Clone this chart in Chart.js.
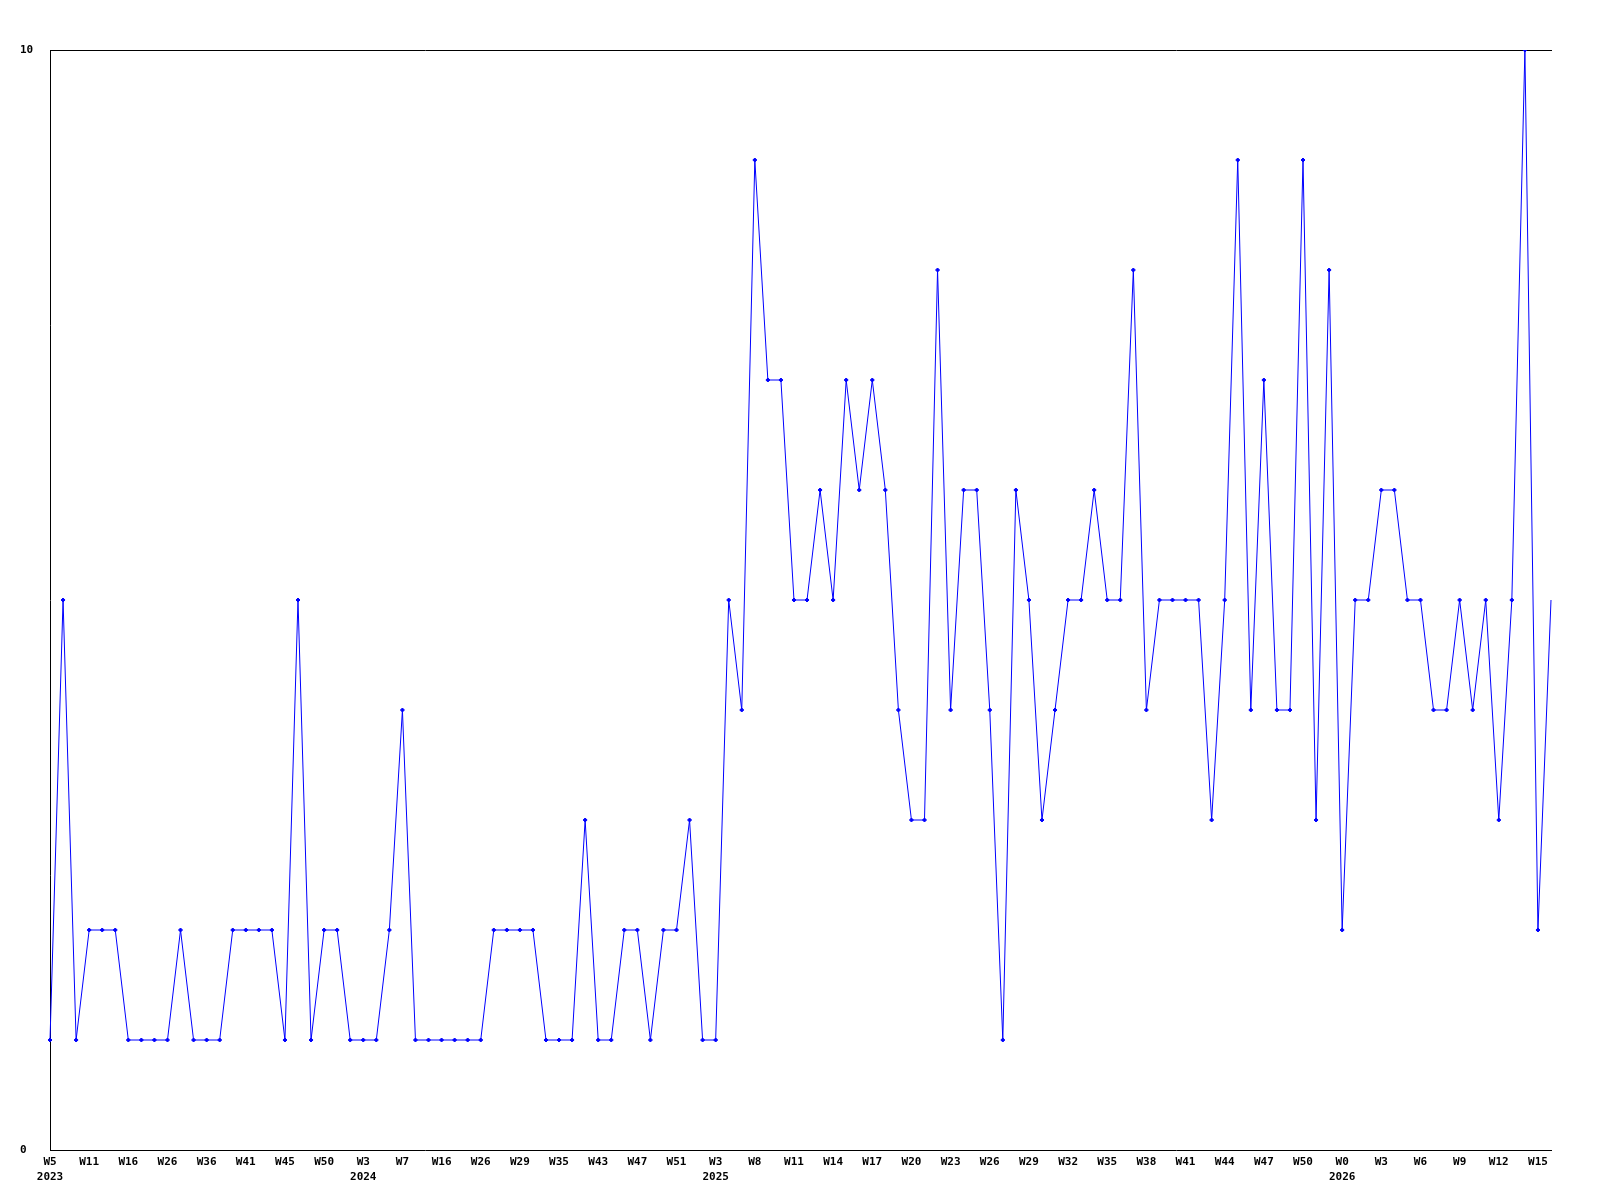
<!DOCTYPE html>
<html>
<head>
<meta charset="utf-8">
<script src="https://cdn.jsdelivr.net/npm/chart.js@4"></script>
<style>
  html, body { margin: 0; padding: 0; background: #fff; }
</style>
</head>
<body>
<canvas id="myChart" width="1600" height="1200"></canvas>
<script>
// week of each point (only every third one is labelled on the axis)
const weeks = [
  "W5", "W7", "W9", "W11", "W13", "W14", "W16", "W19", "W22", "W26", "W30", "W33",
  "W36", "W38", "W39", "W41", "W42", "W44", "W45", "W47", "W48", "W50", "W51", "W52",
  "W3", "W4", "W6", "W7", "W10", "W13", "W16", "W20", "W23", "W26", "W27", "W28",
  "W29", "W31", "W33", "W35", "W38", "W40", "W43", "W45", "W46", "W47", "W49", "W50",
  "W51", "W52", "W1", "W3", "W4", "W6", "W8", "W9", "W10", "W11", "W12", "W13",
  "W14", "W15", "W16", "W17", "W18", "W19", "W20", "W21", "W22", "W23", "W24", "W25",
  "W26", "W27", "W28", "W29", "W30", "W31", "W32", "W33", "W34", "W35", "W36", "W37",
  "W38", "W39", "W40", "W41", "W42", "W43", "W44", "W45", "W46", "W47", "W48", "W49",
  "W50", "W51", "W52", "W0", "W1", "W2", "W3", "W4", "W5", "W6", "W7", "W8",
  "W9", "W10", "W11", "W12", "W13", "W14", "W15", "W16"
];
const years = [
  2023, 2023, 2023, 2023, 2023, 2023, 2023, 2023, 2023, 2023, 2023, 2023,
  2023, 2023, 2023, 2023, 2023, 2023, 2023, 2023, 2023, 2023, 2023, 2023,
  2024, 2024, 2024, 2024, 2024, 2024, 2024, 2024, 2024, 2024, 2024, 2024,
  2024, 2024, 2024, 2024, 2024, 2024, 2024, 2024, 2024, 2024, 2024, 2024,
  2024, 2024, 2025, 2025, 2025, 2025, 2025, 2025, 2025, 2025, 2025, 2025,
  2025, 2025, 2025, 2025, 2025, 2025, 2025, 2025, 2025, 2025, 2025, 2025,
  2025, 2025, 2025, 2025, 2025, 2025, 2025, 2025, 2025, 2025, 2025, 2025,
  2025, 2025, 2025, 2025, 2025, 2025, 2025, 2025, 2025, 2025, 2025, 2025,
  2025, 2025, 2025, 2026, 2026, 2026, 2026, 2026, 2026, 2026, 2026, 2026,
  2026, 2026, 2026, 2026, 2026, 2026, 2026, 2026
];
const counts = [
  1, 5, 1, 2, 2, 2, 1, 1, 1, 1, 2, 1,
  1, 1, 2, 2, 2, 2, 1, 5, 1, 2, 2, 1,
  1, 1, 2, 4, 1, 1, 1, 1, 1, 1, 2, 2,
  2, 2, 1, 1, 1, 3, 1, 1, 2, 2, 1, 2,
  2, 3, 1, 1, 5, 4, 9, 7, 7, 5, 5, 6,
  5, 7, 6, 7, 6, 4, 3, 3, 8, 4, 6, 6,
  4, 1, 6, 5, 3, 4, 5, 5, 6, 5, 5, 8,
  4, 5, 5, 5, 5, 3, 5, 9, 4, 7, 4, 4,
  9, 3, 8, 2, 5, 5, 6, 6, 5, 5, 4, 4,
  5, 4, 5, 3, 5, 10, 2, 5
];
const yMin = 0;
const yMax = 10;
const labelEvery = 3;

const tickFont = { family: "'DejaVu Sans Mono', monospace", size: 11, weight: "bold", lineHeight: "15px" };

const config = {
  type: "line",
  data: {
    labels: weeks,
    datasets: [
      {
        data: counts,
        borderColor: "#0000ff",
        backgroundColor: "#0000ff",
        borderWidth: 1,
        tension: 0,
        pointStyle: "rectRot",
        pointRadius: (ctx) => (ctx.dataIndex === counts.length - 1 ? 0 : 2),
        pointBorderWidth: 1,
        pointBackgroundColor: "#0000ff",
        pointBorderColor: "#0000ff",
      },
    ],
  },
  options: {
    responsive: false,
    animation: false,
    layout: { padding: { left: 20, right: 49, top: 0, bottom: 0 } },
    plugins: { legend: { display: false }, tooltip: { enabled: false } },
    scales: {
      x: {
        type: "category",
        position: "bottom",
        offset: false,
        grid: { display: false },
        border: { display: true, color: "#000", width: 1 },
        ticks: {
          autoSkip: false,
          maxRotation: 0,
          minRotation: 0,
          padding: -3,
          color: "#000",
          font: tickFont,
          callback: (value, index) => {
            if (index % labelEvery !== 0) return "";
            const w = weeks[index];
            if (index === 0 || years[index] !== years[index - labelEvery]) {
              return [w, String(years[index])];
            }
            return w;
          },
        },
        afterFit: (s) => { s.height = 50; },
      },
      x2: {
        type: "category",
        position: "top",
        offset: false,
        grid: { display: false },
        border: { display: true, color: "#000", width: 1 },
        ticks: { display: false },
        afterFit: (s) => { s.height = 50; },
      },
      y: {
        min: yMin,
        max: yMax,
        grid: { display: false },
        border: { display: true, color: "#000", width: 1 },
        ticks: {
          stepSize: yMax - yMin,
          crossAlign: "far",
          color: "#000",
          font: tickFont,
        },
        afterFit: (s) => { s.width = 30; },
      },
    },
  },
};

const myChart = new Chart(document.getElementById("myChart"), config);
</script>
</body>
</html>
